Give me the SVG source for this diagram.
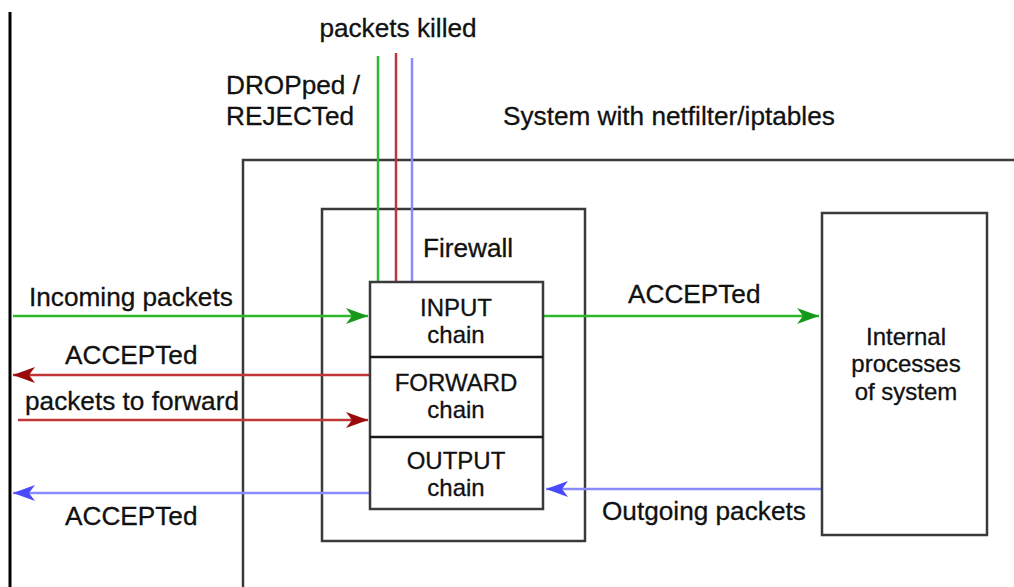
<svg xmlns="http://www.w3.org/2000/svg" width="1014" height="587" viewBox="0 0 1014 587">
<style>
  .box { fill: #ffffff; stroke: #3a3a3a; stroke-width: 2.5; }
  .sys { fill: none; stroke: #3a3a3a; stroke-width: 2.5; }
  text { font-family: "Liberation Sans", Arial, sans-serif; font-size: 26.2px; fill: #111111; stroke: #111111; stroke-width: 0.3; }
  .c { text-anchor: middle; }
  .m { font-size: 24px; }
  .g { stroke: #2db82d; stroke-width: 2.5; fill: none; }
  .r { stroke: #c03535; stroke-width: 2.5; fill: none; }
  .b { stroke: #8a8aff; stroke-width: 2.5; fill: none; }
</style>
<defs>
  <marker id="ag" markerUnits="userSpaceOnUse" markerWidth="22" markerHeight="16" refX="22" refY="8" orient="auto">
    <path d="M0,0 L22,8 L0,16 L6,8 z" fill="#16991a"/>
  </marker>
  <marker id="ar" markerUnits="userSpaceOnUse" markerWidth="22" markerHeight="16" refX="22" refY="8" orient="auto">
    <path d="M0,0 L22,8 L0,16 L6,8 z" fill="#9a0a0a"/>
  </marker>
  <marker id="ab" markerUnits="userSpaceOnUse" markerWidth="22" markerHeight="16" refX="22" refY="8" orient="auto">
    <path d="M0,0 L22,8 L0,16 L6,8 z" fill="#4a4aff"/>
  </marker>
</defs>
<rect width="1014" height="587" fill="#ffffff"/>

<g id="border">
  <line x1="10" y1="12" x2="10" y2="587" stroke="#000000" stroke-width="3"/>
</g>

<g id="system">
  <path class="sys" d="M243,590 L243,160 L1016,160"/>
  <text x="503" y="125">System with netfilter/iptables</text>
</g>

<g id="firewall">
  <rect class="box" x="322" y="209" width="263" height="332"/>
  <text class="c" x="468" y="257">Firewall</text>
</g>

<g id="killed">
  <text class="c" x="398" y="37">packets killed</text>
  <text x="226" y="94">DROPped /<tspan x="226" dy="31">REJECTed</tspan></text>
</g>

<g id="connectors">
  <line class="g" x1="378" y1="56" x2="378" y2="282"/>
  <line class="r" x1="396" y1="53" x2="396" y2="282"/>
  <line class="b" x1="412" y1="58" x2="412" y2="282"/>
  <line class="g" x1="13" y1="316" x2="368" y2="316" marker-end="url(#ag)"/>
  <line class="r" x1="370" y1="375" x2="13" y2="375" marker-end="url(#ar)"/>
  <line class="r" x1="18" y1="420" x2="368" y2="420" marker-end="url(#ar)"/>
  <line class="b" x1="370" y1="493" x2="13" y2="493" marker-end="url(#ab)"/>
  <line class="g" x1="543" y1="316" x2="819" y2="316" marker-end="url(#ag)"/>
  <line class="b" x1="822" y1="489" x2="546" y2="489" marker-end="url(#ab)"/>
</g>

<g id="chains">
  <rect class="box" x="370" y="282" width="173" height="227"/>
  <line x1="370" y1="357" x2="543" y2="357" stroke="#1a1a1a" stroke-width="2.5"/>
  <line x1="370" y1="437" x2="543" y2="437" stroke="#1a1a1a" stroke-width="2.5"/>
</g>
<g id="input-chain">
  <text class="c m" x="456" y="316">INPUT<tspan x="456" dy="27">chain</tspan></text>
</g>
<g id="forward-chain">
  <text class="c m" x="456" y="391">FORWARD<tspan x="456" dy="27">chain</tspan></text>
</g>
<g id="output-chain">
  <text class="c m" x="456" y="469">OUTPUT<tspan x="456" dy="27">chain</tspan></text>
</g>

<g id="internal">
  <rect class="box" x="822" y="213" width="165" height="322"/>
  <text class="c m" x="906" y="345">Internal<tspan x="906" dy="27">processes</tspan><tspan x="906" dy="28">of system</tspan></text>
</g>

<g id="labels">
  <text x="29" y="306">Incoming packets</text>
  <text x="65" y="364">ACCEPTed</text>
  <text x="25" y="410">packets to forward</text>
  <text x="65" y="525">ACCEPTed</text>
  <text x="628" y="303">ACCEPTed</text>
  <text x="602" y="520">Outgoing packets</text>
</g>
</svg>
